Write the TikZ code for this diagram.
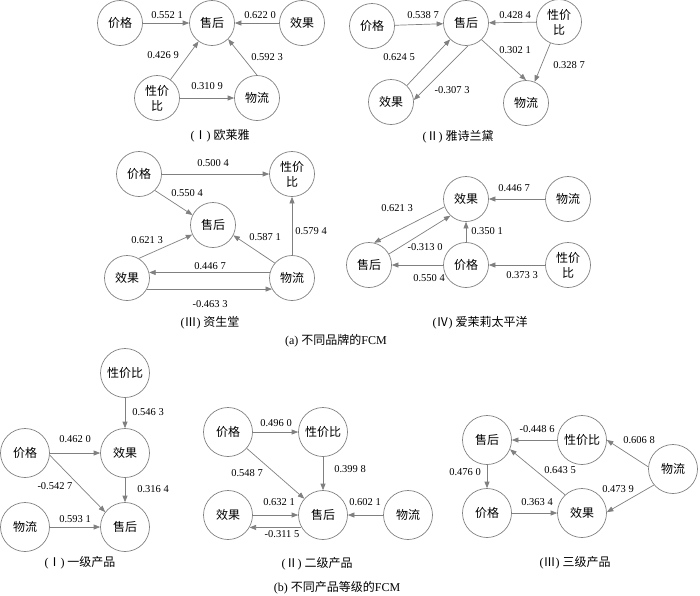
\documentclass[tikz,border=0pt]{standalone}
\usepackage{fontspec}
\setmainfont{Liberation Serif}
\newfontfamily\cjk{Noto Sans CJK SC}
\usetikzlibrary{arrows.meta}
\definecolor{linegray}{RGB}{128,128,128}
\newcommand{\rn}[1]{({\cjk #1}) }
\begin{document}
\begin{tikzpicture}[x=1pt,y=-1pt,
  cn/.style={circle,draw=linegray,line width=0.7pt,minimum size=45pt,inner sep=0pt,
    font=\fontsize{12}{15}\selectfont\cjk,align=center},
  cnb/.style={cn,minimum size=49pt},
  ed/.style={draw=linegray,line width=0.7pt,-{Triangle[length=6.5pt,width=5pt]}},
  wt/.style={font=\fontsize{10.5}{12}\selectfont,inner sep=0pt},
  captxt/.style={font=\fontsize{12}{14}\selectfont,inner sep=0pt}]
\useasboundingbox (0,0) rectangle (700,595);

% ---------- (a) I
\node[cn] (p1) at (120,23) {价格};
\node[cn] (s1) at (212,23) {售后};
\node[cn] (e1) at (302,23) {效果};
\node[cn] (x1) at (157,98) {性价\\比};
\node[cn] (w1) at (257,98) {物流};
\draw[ed] (p1) -- (s1);
\draw[ed] (e1) -- (s1);
\draw[ed] (x1) -- (s1);
\draw[ed] (w1.90) -- (s1.-45);
\draw[ed] (x1) -- (w1);
\node[wt] (l11) at (167,15) {0.552 1};
\node[wt] (l12) at (260,15) {0.622 0};
\node[wt] (l13) at (163,55) {0.426 9};
\node[wt] (l14) at (267,57) {0.592 3};
\node[wt] (l15) at (207,86) {0.310 9};
\node[captxt] (c1) at (220,136) {\rn{Ⅰ}{\cjk 欧莱雅}};

% ---------- (a) II
\node[cn] (p2) at (372,26) {价格};
\node[cn] (s2) at (466,23) {售后};
\node[cn] (x2) at (559,22) {性价\\比};
\node[cn] (e2) at (391,102) {效果};
\node[cn] (w2) at (526,103) {物流};
\draw[ed] (p2) -- (s2);
\draw[ed] (x2) -- (s2);
\draw[ed] (e2.46) -- (s2.226);
\draw[ed] (s2.275) -- (e2.5);
\draw[ed] (s2.-47) -- (w2.90);
\draw[ed] (x2) -- (w2);
\node[wt] (l21) at (423,15) {0.538 7};
\node[wt] (l22) at (515,15) {0.428 4};
\node[wt] (l23) at (399,57) {0.624 5};
\node[wt] (l24) at (452,90) {-0.307 3};
\node[wt] (l25) at (515,50) {0.302 1};
\node[wt] (l26) at (569,65) {0.328 7};
\node[captxt] (c2) at (458,137) {\rn{Ⅱ}{\cjk 雅诗兰黛}};

% ---------- (a) III
\node[cn] (p3) at (139,174) {价格};
\node[cn] (x3) at (292,174) {性价\\比};
\node[cn] (s3) at (213,225) {售后};
\node[cn] (e3) at (127,278) {效果};
\node[cn] (w3) at (292,278) {物流};
\draw[ed] (p3) -- (x3);
\draw[ed] (p3.-46) -- (s3.154);
\draw[ed] (e3.59) -- (s3.205);
\draw[ed] (w3.139) -- (s3.-27);
\draw[ed] (w3) -- (x3);
\draw[ed] (w3.166) -- (e3.14);
\draw[ed] (e3.-29) -- (w3.209);
\node[wt] (l31) at (213,163) {0.500 4};
\node[wt] (l32) at (187,193) {0.550 4};
\node[wt] (l33) at (147,240) {0.621 3};
\node[wt] (l34) at (265,237) {0.587 1};
\node[wt] (l35) at (311,231) {0.579 4};
\node[wt] (l36) at (210,266) {0.446 7};
\node[wt] (l37) at (210,304) {-0.463 3};
\node[captxt] (c3) at (210,323) {\rn{Ⅲ}{\cjk 资生堂}};

% ---------- (a) IV
\node[cn] (e4) at (466,199) {效果};
\node[cn] (w4) at (568,199) {物流};
\node[cn] (s4) at (369,265) {售后};
\node[cn] (p4) at (466,265) {价格};
\node[cn] (x4) at (568,265) {性价\\比};
\draw[ed] (w4) -- (e4);
\draw[ed] (e4.200) -- (s4.77);
\draw[ed] (s4.29) -- (e4.227);
\draw[ed] (p4) -- (e4);
\draw[ed] (p4) -- (s4);
\draw[ed] (x4) -- (p4);
\node[wt] (l41) at (514,188) {0.446 7};
\node[wt] (l42) at (397,208) {0.621 3};
\node[wt] (l43) at (487,231) {0.350 1};
\node[wt] (l44) at (425,247) {-0.313 0};
\node[wt] (l45) at (429,278) {0.550 4};
\node[wt] (l46) at (522,275) {0.373 3};
\node[captxt] (c4) at (480,323) {\rn{Ⅳ}{\cjk 爱茉莉太平洋}};

\node[captxt] (ca) at (336,341) {(a) {\cjk 不同品牌的}FCM};

% ---------- (b) I
\node[cnb] (x5) at (125,373) {性价比};
\node[cnb] (p5) at (25,453) {价格};
\node[cnb] (e5) at (125,453) {效果};
\node[cnb] (w5) at (25,527) {物流};
\node[cnb] (s5) at (125,527) {售后};
\draw[ed] (x5) -- (e5);
\draw[ed] (p5) -- (e5);
\draw[ed] (p5.-5) -- (s5.143);
\draw[ed] (e5) -- (s5);
\draw[ed] (w5) -- (s5);
\node[wt] (l51) at (148,412) {0.546 3};
\node[wt] (l52) at (75,439) {0.462 0};
\node[wt] (l53) at (55,486) {-0.542 7};
\node[wt] (l54) at (153,489) {0.316 4};
\node[wt] (l55) at (75,519) {0.593 1};
\node[captxt] (c5) at (80,563) {\rn{Ⅰ}{\cjk 一级产品}};

% ---------- (b) II
\node[cnb] (p6) at (228,432) {价格};
\node[cnb] (x6) at (323,432) {性价比};
\node[cnb] (e6) at (228,515) {效果};
\node[cnb] (s6) at (323,515) {售后};
\node[cnb] (w6) at (408,515) {物流};
\draw[ed] (p6) -- (x6);
\draw[ed] (p6) -- (s6);
\draw[ed] (x6) -- (s6);
\draw[ed] (e6) -- (s6);
\draw[ed] (s6.210) -- (e6.-30);
\draw[ed] (w6) -- (s6);
\node[wt] (l61) at (276,423) {0.496 0};
\node[wt] (l62) at (247,473) {0.548 7};
\node[wt] (l63) at (350,469) {0.399 8};
\node[wt] (l64) at (279,502) {0.632 1};
\node[wt] (l65) at (365,502) {0.602 1};
\node[wt] (l66) at (282,534) {-0.311 5};
\node[captxt] (c6) at (317,564) {\rn{Ⅱ}{\cjk 二级产品}};

% ---------- (b) III
\node[cnb] (s7) at (487,440) {售后};
\node[cnb] (x7) at (582,440) {性价比};
\node[cnb] (w7) at (673,469) {物流};
\node[cnb] (p7) at (487,513) {价格};
\node[cnb] (e7) at (582,513) {效果};
\draw[ed] (x7) -- (s7);
\draw[ed] (w7.175) -- (x7.0);
\draw[ed] (w7.220) -- (e7.2);
\draw[ed] (e7.133) -- (s7.-22);
\draw[ed] (s7) -- (p7);
\draw[ed] (p7) -- (e7);
\node[wt] (l71) at (537,429) {-0.448 6};
\node[wt] (l72) at (639,440) {0.606 8};
\node[wt] (l73) at (560,470) {0.643 5};
\node[wt] (l74) at (465,472) {0.476 0};
\node[wt] (l75) at (618,489) {0.473 9};
\node[wt] (l76) at (537,502) {0.363 4};
\node[captxt] (c7) at (575,563) {\rn{Ⅲ}{\cjk 三级产品}};

\node[captxt] (cb) at (337,588) {(b) {\cjk 不同产品等级的}FCM};
\end{tikzpicture}
\end{document}
